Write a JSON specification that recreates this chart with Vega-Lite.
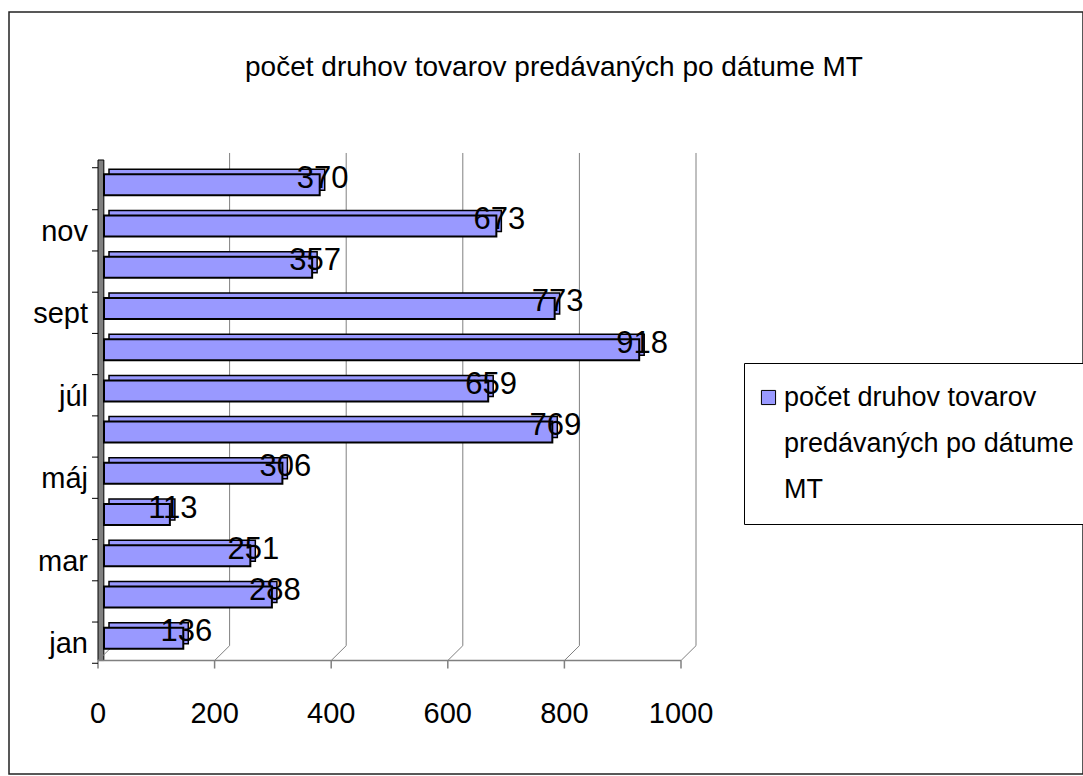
{
  "$schema": "https://vega.github.io/schema/vega-lite/v6.json",
  "width": 1074,
  "height": 762,
  "autosize": "none",
  "padding": {"left": 9, "top": 12, "right": 0, "bottom": 2},
  "background": "white",
  "config": {
    "font": "Liberation Sans",
    "view": {"stroke": "#222222", "strokeWidth": 1.5},
    "style": {"guide-label": {"lineHeight": 46}}
  },
  "title": {
    "text": "počet druhov tovarov predávaných po dátume MT",
    "font": "Liberation Sans",
    "fontSize": 28,
    "fontWeight": "normal",
    "color": "black",
    "anchor": "middle",
    "baseline": "middle",
    "offset": -56,
    "dy": 28,
    "dx": 8
  },
  "datasets": {
    "months": [
      {"month": "jan", "i": 1, "value": 136},
      {"month": "feb", "i": 2, "value": 288},
      {"month": "mar", "i": 3, "value": 251},
      {"month": "apr", "i": 4, "value": 113},
      {"month": "máj", "i": 5, "value": 306},
      {"month": "jún", "i": 6, "value": 769},
      {"month": "júl", "i": 7, "value": 659},
      {"month": "aug", "i": 8, "value": 918},
      {"month": "sept", "i": 9, "value": 773},
      {"month": "okt", "i": 10, "value": 357},
      {"month": "nov", "i": 11, "value": 673},
      {"month": "dec", "i": 12, "value": 370}
    ],
    "grid": [
      {"value": 0}, {"value": 200}, {"value": 400}, {"value": 600}, {"value": 800}, {"value": 1000}
    ]
  },
  "layer": [
    {
      "data": {"values": [{"part": "wall"}]},
      "mark": {"type": "rect", "fill": "#808080", "stroke": "#000000", "strokeWidth": 1},
      "encoding": {
        "x": {"datum": 0, "type": "quantitative", "scale": {"domain": [0, 1000], "range": [89, 672], "nice": false}, "axis": null},
        "x2": {"datum": 10},
        "y": {"datum": 0.46, "type": "quantitative", "scale": {"domain": [0, 13], "range": [672.5, 126.5], "nice": false, "zero": false}, "axis": null},
        "y2": {"datum": 12.6}
      }
    },
    {
      "data": {"name": "grid"},
      "transform": [{"filter": "datum.value > 0"}],
      "mark": {"type": "rule", "color": "#808080", "strokeWidth": 1, "xOffset": 15},
      "encoding": {
        "x": {"field": "value", "type": "quantitative", "scale": {"domain": [0, 1000], "range": [89, 672], "nice": false}, "axis": null},
        "y": {"datum": 0.82, "type": "quantitative", "scale": {"domain": [0, 13], "range": [672.5, 126.5], "nice": false, "zero": false}, "axis": null},
        "y2": {"datum": 12.77}
      }
    },
    {
      "data": {"name": "grid"},
      "mark": {"type": "rule", "color": "#808080", "strokeWidth": 1, "x2Offset": 15},
      "encoding": {
        "x": {"field": "value", "type": "quantitative", "scale": {"domain": [0, 1000], "range": [89, 672], "nice": false}, "axis": null},
        "x2": {"field": "value"},
        "y": {"datum": 0.46, "type": "quantitative", "scale": {"domain": [0, 13], "range": [672.5, 126.5], "nice": false, "zero": false}, "axis": null},
        "y2": {"datum": 0.82}
      }
    },
    {
      "data": {"values": [{"part": "floor"}]},
      "mark": {"type": "rule", "color": "#808080", "strokeWidth": 1.5},
      "encoding": {
        "x": {"datum": 0, "type": "quantitative", "scale": {"domain": [0, 1000], "range": [89, 672], "nice": false}, "axis": null},
        "x2": {"datum": 1000},
        "y": {"datum": 0.46, "type": "quantitative", "scale": {"domain": [0, 13], "range": [672.5, 126.5], "nice": false, "zero": false}, "axis": null}
      }
    },
    {
      "data": {"name": "grid"},
      "mark": {"type": "rule", "color": "#808080", "strokeWidth": 1.5, "y2Offset": 8},
      "encoding": {
        "x": {"field": "value", "type": "quantitative", "scale": {"domain": [0, 1000], "range": [89, 672], "nice": false}, "axis": null},
        "y": {"datum": 0.46, "type": "quantitative", "scale": {"domain": [0, 13], "range": [672.5, 126.5], "nice": false, "zero": false}, "axis": null},
        "y2": {"datum": 0.46}
      }
    },
    {
      "data": {"name": "grid"},
      "mark": {"type": "text", "font": "Liberation Sans", "fontSize": 29, "align": "center", "baseline": "middle", "dy": 53, "color": "#000000"},
      "encoding": {
        "x": {"field": "value", "type": "quantitative", "scale": {"domain": [0, 1000], "range": [89, 672], "nice": false}, "axis": null},
        "y": {"datum": 0.46, "type": "quantitative", "scale": {"domain": [0, 13], "range": [672.5, 126.5], "nice": false, "zero": false}, "axis": null},
        "text": {"field": "value", "type": "quantitative", "format": "d"}
      }
    },
    {
      "data": {"name": "months"},
      "mark": {"type": "rule", "color": "#000000", "strokeWidth": 1, "x2Offset": -6, "yOffset": 25},
      "encoding": {
        "x": {"datum": 0, "type": "quantitative", "scale": {"domain": [0, 1000], "range": [89, 672], "nice": false}, "axis": null},
        "x2": {"datum": 0},
        "y": {"field": "i", "type": "quantitative", "scale": {"domain": [0, 13], "range": [672.5, 126.5], "nice": false, "zero": false}, "axis": null}
      }
    },
    {
      "data": {"name": "months"},
      "transform": [{"filter": "datum.i == 12"}],
      "mark": {"type": "rule", "color": "#000000", "strokeWidth": 1, "x2Offset": -6, "yOffset": -17},
      "encoding": {
        "x": {"datum": 0, "type": "quantitative", "scale": {"domain": [0, 1000], "range": [89, 672], "nice": false}, "axis": null},
        "x2": {"datum": 0},
        "y": {"field": "i", "type": "quantitative", "scale": {"domain": [0, 13], "range": [672.5, 126.5], "nice": false, "zero": false}, "axis": null}
      }
    },
    {
      "data": {"name": "months"},
      "transform": [{"filter": "datum.i % 2 == 1"}],
      "mark": {"type": "text", "font": "Liberation Sans", "fontSize": 29, "align": "right", "baseline": "middle", "dx": -10, "dy": 6, "color": "#000000"},
      "encoding": {
        "x": {"datum": 0, "type": "quantitative", "scale": {"domain": [0, 1000], "range": [89, 672], "nice": false}, "axis": null},
        "y": {"field": "i", "type": "quantitative", "scale": {"domain": [0, 13], "range": [672.5, 126.5], "nice": false, "zero": false}, "axis": null},
        "text": {"field": "month", "type": "nominal"}
      }
    },
    {
      "data": {"name": "months"},
      "mark": {"type": "bar", "orient": "horizontal", "size": 21, "fill": "#9999FF", "stroke": "#000000", "strokeWidth": 1.5, "xOffset": 11, "yOffset": -5},
      "encoding": {
        "x": {"field": "value", "type": "quantitative", "scale": {"domain": [0, 1000], "range": [89, 672], "nice": false}, "axis": null},
        "y": {"field": "i", "type": "quantitative", "scale": {"domain": [0, 13], "range": [672.5, 126.5], "nice": false, "zero": false}, "axis": null}
      }
    },
    {
      "data": {"name": "months"},
      "mark": {"type": "bar", "orient": "horizontal", "size": 21, "stroke": "#000000", "strokeWidth": 2, "xOffset": 6},
      "encoding": {
        "x": {"field": "value", "type": "quantitative", "scale": {"domain": [0, 1000], "range": [89, 672], "nice": false}, "axis": null},
        "y": {"field": "i", "type": "quantitative", "scale": {"domain": [0, 13], "range": [672.5, 126.5], "nice": false, "zero": false}, "axis": null},
        "color": {
          "datum": "počet druhov tovarov predávaných po dátume MT",
          "type": "nominal",
          "scale": {"range": ["#9999FF"]},
          "legend": {
            "orient": "none", "legendX": 735, "legendY": 351, "title": null,
            "strokeColor": "#000000", "fillColor": "#ffffff", "padding": 21, "cornerRadius": 0,
            "symbolType": "square", "symbolSize": 200, "symbolStrokeColor": "#000000", "symbolStrokeWidth": 1,
            "symbolOffset": -10,
            "labelFontSize": 27, "labelFont": "Liberation Sans", "labelColor": "#000000",
            "labelLimit": 0, "labelOffset": 2,
            "labelExpr": "[substring(datum.label, 0, 20), substring(datum.label, 21, 42), substring(datum.label, 43)]"
          }
        }
      }
    },
    {
      "data": {"name": "months"},
      "mark": {"type": "text", "font": "Liberation Sans", "fontSize": 31, "align": "center", "baseline": "middle", "dx": 9, "dy": -6, "color": "#000000"},
      "encoding": {
        "x": {"field": "value", "type": "quantitative", "scale": {"domain": [0, 1000], "range": [89, 672], "nice": false}, "axis": null},
        "y": {"field": "i", "type": "quantitative", "scale": {"domain": [0, 13], "range": [672.5, 126.5], "nice": false, "zero": false}, "axis": null},
        "text": {"field": "value", "type": "quantitative"}
      }
    }
  ]
}
